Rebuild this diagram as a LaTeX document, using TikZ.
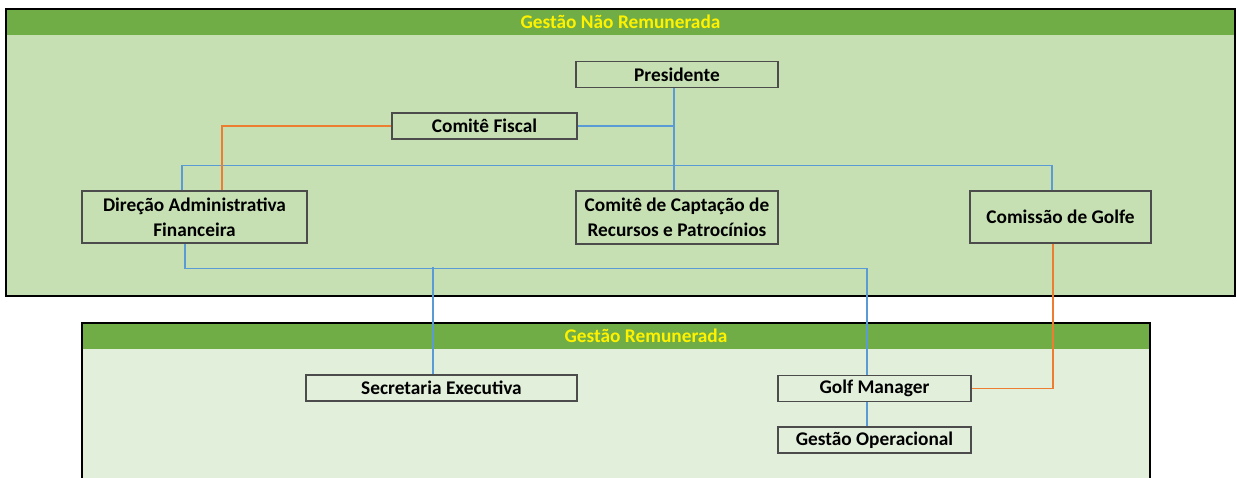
\documentclass[tikz,border=0pt]{standalone}
\usepackage{fontspec}
\setmainfont{Carlito}
\usepackage{xcolor}
\usepackage{tikz}
\usetikzlibrary{calc}
\definecolor{hdrgreen}{HTML}{70AD47}
\definecolor{topbody}{HTML}{C6E0B4}
\definecolor{botbody}{HTML}{E2EFDA}
\definecolor{lineblue}{HTML}{5B9BD5}
\definecolor{lineorange}{HTML}{ED7D31}
\tikzstyle{box}=[rectangle,draw=black!70,line width=0.6pt,align=center,inner sep=0pt,font=\fontsize{11}{14}\selectfont\bfseries]
\tikzstyle{title}=[text=yellow,font=\fontsize{11}{14}\selectfont\bfseries]
\tikzstyle{blueedge}=[draw=lineblue,line width=0.8pt]
\tikzstyle{orangeedge}=[draw=lineorange,line width=0.8pt]
\tikzstyle{panel}=[draw=black,line width=1.2pt]

\begin{document}
\begin{tikzpicture}[x=0.02cm, y=-0.02cm]

  \useasboundingbox (0,0) rectangle (1237,477);

  % panels
  \fill[topbody] (6,9) rectangle (1235,296);
  \fill[hdrgreen] (6,9) rectangle (1235,35);
  \path[panel] (6,9) rectangle (1235,296);
  \fill[botbody] (82,323) rectangle (1150,480);
  \fill[hdrgreen] (82,323) rectangle (1150,349);
  \path[panel] (82,480) |- (1150,323) -- (1150,480);

  \node[title] (topttl) at (620.5,22) {Gestão Não Remunerada};
  \node[title] (botttl) at (646,336) {Gestão Remunerada};

   \foreach \x/\y/\w/\h/\name/\label in {677/74.5/202/26/pres/{Presidente}, 484.5/126/185/26/fisc/{Comitê Fiscal},
            194.5/217/225/52/dir/{Direção Administrativa\\Financeira}, 677/217.5/202/53/capt/{Comitê de Captação de\\Recursos e Patrocínios},
            1060.5/217/181/52/golfe/{Comissão de Golfe}}
          \node[box, minimum width=\w*0.02cm, minimum height=\h*0.02cm] (\name) at (\x,\y) {\label};

   \foreach \x/\y/\w/\h/\name/\label in {441.5/388/271/26/secr/{Secretaria Executiva}, 874.5/388.5/193/26/gm/{Golf Manager},
            874.5/440/193/26/oper/{Gestão Operacional}}
          \node[box, minimum width=\w*0.02cm, minimum height=\h*0.02cm] (\name) at (\x,\y) {\label};

  % blue connectors
  \path[blueedge] ($(pres.south)+(-3,0)$) -- ($(capt.north)+(-3,0)$);
  \path[blueedge] (fisc.east) -- ++(97,0);
  \path[blueedge] ($(dir.north)+(-12.5,0)$) -- ++(0,-25) -| ($(golfe.north)+(-8.5,0)$);
  \path[blueedge] ($(dir.south)+(-9.5,0)$) -- ++(0,25) -| ($(gm.north)+(-7.5,0)$);
  \path[blueedge] ($(secr.north)+(-8.5,0)$) -- ++(0,-107);
  \path[blueedge] ($(gm.south)+(-7.5,0)$) -- ($(oper.north)+(-7.5,0)$);

  % orange connectors
  \path[orangeedge] (fisc.west) -| ($(dir.north)+(27.5,0)$);
  \path[orangeedge] ($(golfe.south)+(-7.5,0)$) |- (gm.east);

\end{tikzpicture}
\end{document}
